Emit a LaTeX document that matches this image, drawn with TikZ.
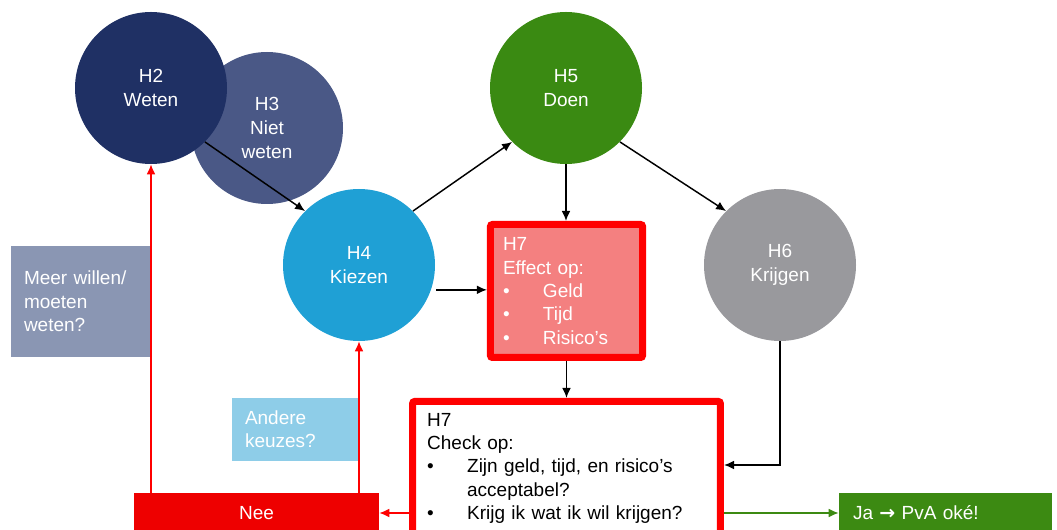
\documentclass[tikz,border=0pt]{standalone}
\usepackage{fontspec}
\setmainfont{Liberation Sans}
\newfontfamily\dvfont{DejaVu Sans}
\usetikzlibrary{arrows.meta}
\definecolor{cHtwo}{HTML}{1F3064}
\definecolor{cHthree}{HTML}{4A5886}
\definecolor{cHfour}{HTML}{1FA0D5}
\definecolor{cHfive}{HTML}{3A8A12}
\definecolor{cHsix}{HTML}{99999D}
\definecolor{cPink}{HTML}{F48080}
\definecolor{cMeer}{HTML}{8A96B3}
\definecolor{cAndere}{HTML}{8ECDE8}
\definecolor{cNee}{HTML}{EE0000}
\definecolor{cJa}{HTML}{3C8A12}
\begin{document}
\begin{tikzpicture}[x=0.75pt,y=-0.75pt,
  txt/.style={font=\fontsize{14.25}{17.5}\selectfont},
  circ/.style={circle, minimum size=114pt, inner sep=0pt, text=white, align=center,
    font=\fontsize{14.25}{18}\selectfont},
  arr/.style={-{Latex[length=7.5pt,width=6.5pt]}, line width=1.1pt},
  redarr/.style={arr, draw=red},
  greenarr/.style={arr, draw=cJa},
  redbox/.style={txt, draw=red, line width=5.25pt, rounded corners=1.5pt, align=left},
  plainbox/.style={txt, text=white, align=left}
]
\useasboundingbox (0,0) rectangle (1057,530);
\clip (0,0) rectangle (1057,530);

% circles
\node[circ, fill=cHthree] (H3) at (267,128) {H3\\Niet\\weten};
\node[circ, fill=cHtwo] (H2) at (151,88) {H2\\Weten};
\node[circ, fill=cHfour] (H4) at (359,265) {H4\\Kiezen};
\node[circ, fill=cHfive] (H5) at (566,88) {H5\\Doen};
\node[circ, fill=cHsix] (H6) at (780,265) {H6\\Krijgen};

% H7 boxes
\node[redbox, fill=cPink, text=white, text width=95.25pt, inner xsep=9.4pt,
  inner ysep=0pt, minimum height=99.75pt] (H7a) at (566.5,291)
  {H7\\Effect op:\\\makebox[30pt][l]{\textbullet}Geld\\\makebox[30pt][l]{\textbullet}Tijd\\\makebox[30pt][l]{\textbullet}Risico’s};
\node[redbox, fill=white, text=black, text width=209pt, inner xsep=10.9pt,
  inner ysep=8.6pt, anchor=north] (H7b) at (566.5,398)
  {H7\\Check op:\\\makebox[30pt][l]{\textbullet}Zijn geld, tijd, en risico’s\\\hspace*{30pt}acceptabel?\\\makebox[30pt][l]{\textbullet}Krijg ik wat ik wil krijgen?};

% side boxes
\node[plainbox, fill=cMeer, text width=84.75pt, inner xsep=9.75pt, inner ysep=0pt,
  minimum height=83.25pt] (meer) at (80.5,301.5) {Meer willen/\\moeten\\weten?};
\node[plainbox, fill=cAndere, text width=75.75pt, inner xsep=9.75pt, inner ysep=0pt,
  minimum height=47.25pt] (andere) at (295.5,429.5) {Andere\\keuzes?};
\node[txt, fill=cNee, text=white, minimum width=183.75pt, minimum height=30pt,
  inner sep=0pt] (nee) at (256.5,513) {Nee};
\node[plainbox, fill=cJa, text width=138.75pt, inner xsep=10.5pt, inner ysep=0pt,
  minimum height=30pt] (ja) at (945.5,513) {Ja {\dvfont\bfseries →} PvA oké!};

% black connectors
\draw[arr] (H2.-45) -- (H4.135);
\draw[arr] (H4.45) -- (H5.-135);
\draw[arr] (H5.-45) -- (H6.135);
\draw[arr] (H5.south) -- (H5.south |- H7a.north);
\draw[arr, shorten <=4pt] (H4.-19) -- (H4.-19 -| H7a.west);
\draw[arr] (H7a.south) -- (H7b.north);
\coordinate (hsixin) at (724,465);
\draw[arr] (H6.south) |- (hsixin);

% red connectors
\draw[redarr] (H2.south |- nee.north) -- (H2.south);
\draw[redarr] (H4.south |- nee.north) -- (H4.south);
\draw[redarr] (nee.east -| H7b.west) -- (nee.east);

% green connector
\draw[greenarr] (ja.west -| H7b.east) -- (ja.west);
\end{tikzpicture}
\end{document}
